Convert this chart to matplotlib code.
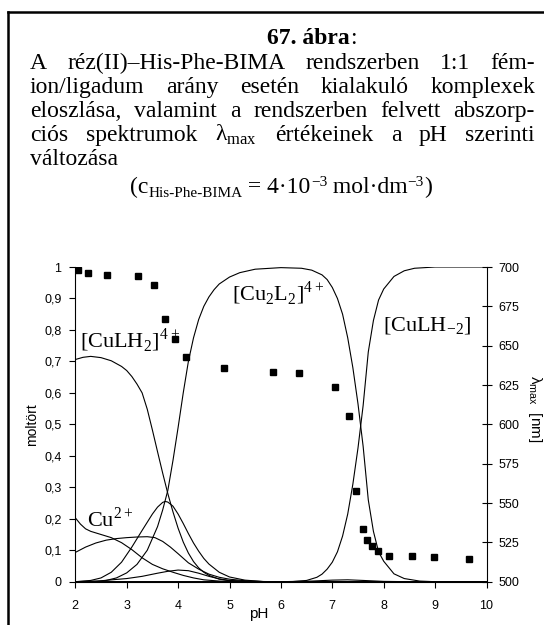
import matplotlib
matplotlib.use('Agg')
import matplotlib.pyplot as plt
from matplotlib.lines import Line2D

W, H = 544, 625
serif = 'Liberation Serif'
sans = 'Liberation Sans'

# --- eloszlás (moltört) ---
ph_cu = [2.0, 2.1, 2.2, 2.3, 2.5, 2.7, 2.9, 3.1, 3.3, 3.5, 3.7, 3.9, 4.1, 4.3, 4.5, 4.8, 5.2, 10.0]
cu = [0.203, 0.183, 0.168, 0.160, 0.150, 0.140, 0.124, 0.102, 0.076, 0.055, 0.041, 0.030, 0.020, 0.012, 0.006, 0.002, 0.0, 0.0]

ph_culh = [2.0, 2.2, 2.4, 2.6, 2.8, 3.0, 3.2, 3.4, 3.55, 3.7, 3.85, 4.0, 4.2, 4.4, 4.6, 4.8, 5.0, 5.3, 5.7, 10.0]
culh = [0.093, 0.110, 0.123, 0.132, 0.137, 0.140, 0.142, 0.143, 0.140, 0.128, 0.110, 0.089, 0.060, 0.040, 0.024, 0.014, 0.008, 0.003, 0.0, 0.0]

ph_culh2 = [2.0, 2.15, 2.3, 2.5, 2.7, 2.9, 3.0, 3.1, 3.2, 3.3, 3.4, 3.5, 3.6, 3.7, 3.8, 3.9, 4.0,
            4.1, 4.2, 4.3, 4.4, 4.5, 4.6, 4.8, 5.0, 5.4, 10.0]
culh2 = [0.706, 0.713, 0.716, 0.712, 0.702, 0.684, 0.671, 0.652, 0.628, 0.600, 0.548, 0.482, 0.413,
         0.345, 0.280, 0.222, 0.170, 0.126, 0.091, 0.064, 0.044, 0.030, 0.020, 0.008, 0.003, 0.0, 0.0]

ph_cu2l2 = [2.0, 2.4, 2.6, 2.8, 3.0, 3.2, 3.4, 3.6, 3.7, 3.8, 3.9, 4.0, 4.1, 4.2, 4.3, 4.4, 4.5, 4.6,
            4.7, 4.8, 5.0, 5.2, 5.5, 6.0, 6.4, 6.6, 6.8, 6.9, 7.0, 7.1, 7.2, 7.3, 7.4, 7.5, 7.6,
            7.7, 7.8, 7.9, 8.0, 8.2, 8.4, 8.7, 9.0, 10.0]
cu2l2 = [0.0, 0.0, 0.004, 0.012, 0.028, 0.055, 0.100, 0.175, 0.228, 0.290, 0.385, 0.490, 0.600,
         0.700, 0.775, 0.833, 0.875, 0.905, 0.928, 0.946, 0.968, 0.982, 0.993, 0.998, 0.996, 0.990,
         0.975, 0.960, 0.935, 0.900, 0.850, 0.775, 0.680, 0.565, 0.430, 0.260, 0.160, 0.095, 0.065,
         0.025, 0.010, 0.002, 0.0, 0.0]

ph_culhm2 = [2.0, 6.2, 6.5, 6.7, 6.8, 6.9, 7.0, 7.1, 7.2, 7.3, 7.4, 7.5, 7.6, 7.7, 7.8, 7.9, 8.0,
             8.2, 8.4, 8.6, 9.0, 10.0]
culhm2 = [0.0, 0.0, 0.004, 0.014, 0.024, 0.040, 0.062, 0.095, 0.145, 0.215, 0.310, 0.425, 0.560,
          0.730, 0.830, 0.895, 0.930, 0.970, 0.988, 0.996, 1.0, 1.0]

ph_bell = [2.0, 2.3, 2.5, 2.7, 2.9, 3.1, 3.3, 3.5, 3.6, 3.7, 3.75, 3.8, 3.9, 4.0, 4.1, 4.2, 4.3,
           4.4, 4.5, 4.6, 4.8, 5.0, 5.3, 5.7, 10.0]
bell = [0.0, 0.004, 0.012, 0.030, 0.062, 0.110, 0.163, 0.215, 0.237, 0.252, 0.255, 0.253, 0.240,
        0.215, 0.185, 0.153, 0.123, 0.097, 0.074, 0.056, 0.030, 0.015, 0.005, 0.0, 0.0]

ph_bump = [2.0, 2.5, 3.0, 3.3, 3.6, 3.8, 4.0, 4.2, 4.4, 4.6, 4.8, 5.0, 5.4, 6.0, 10.0]
bump = [0.0, 0.003, 0.010, 0.017, 0.027, 0.033, 0.037, 0.035, 0.027, 0.017, 0.009, 0.004, 0.001, 0.0, 0.0]

ph_tiny = [2.0, 6.0, 6.6, 7.0, 7.3, 7.6, 8.0, 8.5, 10.0]
tiny = [0.0, 0.0, 0.002, 0.005, 0.006, 0.004, 0.001, 0.0, 0.0]

# --- lambda max ---
ph_lam = [2.06, 2.25, 2.62, 3.22, 3.53, 3.75, 3.94, 4.16, 4.90, 5.84, 6.36, 7.05, 7.32, 7.47,
          7.59, 7.68, 7.78, 7.89, 8.10, 8.55, 8.97, 9.66]
lam = [698, 696, 695, 694, 688.5, 667, 654.5, 643, 635.5, 633.5, 632.5, 624, 605, 557.5,
       533.5, 526.5, 522.5, 519.5, 516.5, 516.5, 515.5, 514.5]

fig = plt.figure(figsize=(W / 100, H / 100), dpi=100)
ax = fig.add_axes([75.3 / W, 1 - 581.7 / H, 411.2 / W, 314.7 / H])
ax2 = ax.twinx()

for xs, ys in [(ph_cu, cu), (ph_culh, culh), (ph_culh2, culh2), (ph_cu2l2, cu2l2),
               (ph_culhm2, culhm2), (ph_bell, bell), (ph_bump, bump), (ph_tiny, tiny)]:
    ax.plot(xs, ys, color='black', lw=0.8)

ax2.plot(ph_lam, lam, 's', color='black', ms=5, mec='black')

ax.set_xlim(2, 10)
ax.set_ylim(0, 1)
ax2.set_ylim(500, 700)
ax.set_xticks(range(2, 11))
ax.set_yticks([i / 10 for i in range(11)])
ax.set_yticklabels(['0'] + ['0,%d' % i for i in range(1, 10)] + ['1'])
ax2.set_yticks(range(500, 701, 25))

for a in (ax, ax2):
    a.spines['top'].set_visible(False)
    for s in a.spines.values():
        s.set_linewidth(0.8)
ax2.spines['left'].set_visible(False)
ax2.spines['bottom'].set_visible(False)
ax.spines['right'].set_visible(False)

ax.tick_params(axis='x', direction='out', length=4, width=0.8, pad=9, labelsize=9)
ax.tick_params(axis='y', direction='out', length=4, width=0.8, pad=6, labelsize=9)
ax2.tick_params(axis='y', direction='inout', length=7, width=0.8, pad=5, labelsize=9)
for lab in ax.get_xticklabels() + ax.get_yticklabels() + ax2.get_yticklabels():
    lab.set_fontfamily(sans)

ax.set_ylabel('moltört', fontfamily=sans, fontsize=10)
ax.yaxis.set_label_coords(-(75.3 - 32) / 411.2, 0.5)
ax.yaxis.label.set_va('center')
ax.set_xlabel('pH', fontfamily=sans, fontsize=11)
ax.xaxis.set_label_coords((259 - 75.3) / 411.2, -(614 - 581.7) / 314.7)
ax.xaxis.label.set_va('center')
ax.text((535 - 75.3) / 411.2, 0.55, r'λ$_\mathregular{max}$  [nm]', transform=ax.transAxes,
        rotation=270, ha='center', va='center', fontfamily=sans, fontsize=11)

# feliratok a görbékhez
ax.text(2.09, 0.746, r'[CuLH$_\mathregular{2}$]$^\mathregular{4+}$', fontfamily=serif, fontsize=16, va='baseline')
ax.text(5.05, 0.895, r'[Cu$_\mathregular{2}$L$_\mathregular{2}$]$^\mathregular{4+}$', fontfamily=serif, fontsize=16, va='baseline')
ax.text(7.98, 0.794, r'[CuLH$_\mathregular{−2}$]', fontfamily=serif, fontsize=16, va='baseline')
ax.text(2.23, 0.174, r'Cu$^\mathregular{2+}$', fontfamily=serif, fontsize=16, va='baseline')

# keret
fig.add_artist(Line2D([7.5 / W, 1], [1 - 12 / H, 1 - 12 / H], color='black', lw=1.8))
fig.add_artist(Line2D([7.5 / W, 7.5 / W], [1 - 12 / H, 0], color='black', lw=1.8))

renderer = fig.canvas.get_renderer()


def put(x, y, s, **kw):
    t = fig.text(x / W, 1 - y / H, s, va='baseline', ha='left', **kw)
    return t, t.get_window_extent(renderer).width


def runs(x, y, parts):
    for s, size, dy, weight in parts:
        t, w = put(x, y - dy, s, fontfamily=serif, fontsize=size, fontweight=weight)
        x += w


def justify(line, y, x0=30, x1=535, size=17):
    words = line.split()
    items = [put(0, y, w, fontfamily=serif, fontsize=size) for w in words]
    gap = (x1 - x0 - sum(w for _, w in items)) / (len(items) - 1)
    x = x0
    for t, w in items:
        t.set_x(x / W)
        x += w + gap


runs(267, 44, [('67. ábra', 17, 0, 'bold'), (':', 17, 0, 'normal')])

caption = ['A réz(II)–His-Phe-BIMA rendszerben 1:1 fém-',
           'ion/ligadum arány esetén kialakuló komplexek',
           'eloszlása, valamint a rendszerben felvett abszorp-',
           r'ciós spektrumok λ$_\mathregular{max}$ értékeinek a pH szerinti']
base = [69, 93, 117, 141]
for line, y in zip(caption, base):
    justify(line, y)
put(30, 165, 'változása', fontfamily=serif, fontsize=17)

runs(130, 193, [('(c', 17, 0, 'normal'), ('His-Phe-BIMA', 11, -4, 'normal'),
                (' = 4·10', 17, 0, 'normal'), ('−3', 11, 7, 'normal'),
                (' mol·dm', 17, 0, 'normal'), ('−3', 11, 7, 'normal'), (')', 17, 0, 'normal')])

fig.savefig('out.png', dpi=100)
